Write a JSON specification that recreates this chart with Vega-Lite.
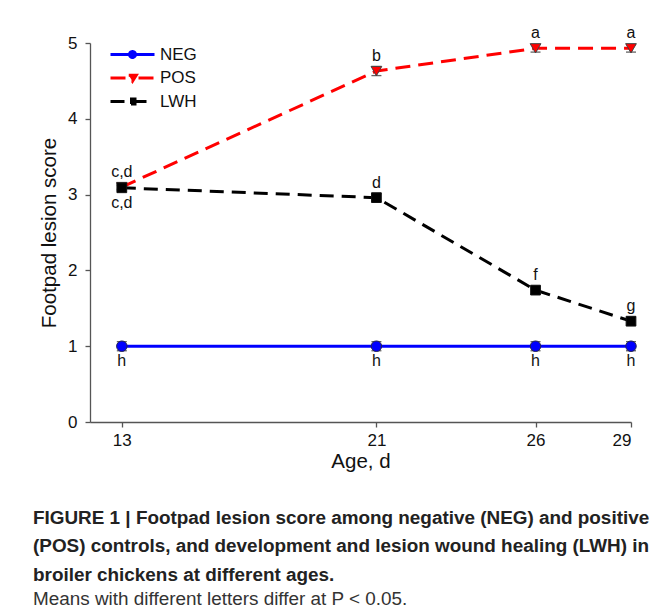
{
  "$schema": "https://vega.github.io/schema/vega-lite/v6.json",
  "width": 541,
  "height": 379,
  "autosize": {"type": "none"},
  "padding": {"left": 90, "top": 43, "right": 36, "bottom": 186},
  "background": "white",
  "title": {
    "text": ["FIGURE 1 | Footpad lesion score among negative (NEG) and positive", "(POS) controls, and development and lesion wound healing (LWH) in", "broiler chickens at different ages."],
    "subtitle": "Means with different letters differ at P < 0.05.",
    "orient": "bottom",
    "anchor": "start",
    "frame": "group",
    "dx": -57,
    "offset": 37,
    "font": "Liberation Sans",
    "fontSize": 18.9,
    "fontWeight": "bold",
    "lineHeight": 28.5,
    "color": "#222222",
    "subtitleFont": "Liberation Sans",
    "subtitleFontSize": 18.9,
    "subtitleLineHeight": 28,
    "subtitleColor": "#333333",
    "subtitlePadding": 6
  },
  "config": {
    "view": {"stroke": null},
    "axis": {
      "grid": false,
      "domainColor": "#555555",
      "domainWidth": 1.3,
      "tickColor": "#555555",
      "tickWidth": 1.3,
      "tickSize": 5,
      "labelFont": "Liberation Sans",
      "labelFontSize": 17,
      "labelColor": "#111111",
      "titleFont": "Liberation Sans",
      "titleFontSize": 20.5,
      "titleFontWeight": "normal",
      "titleColor": "#111111"
    }
  },
  "data": {
    "values": [
      {"series": "NEG", "age": 13, "mean": 1.0, "se": 0.06, "label": "h"},
      {"series": "NEG", "age": 21, "mean": 1.0, "se": 0.06, "label": "h"},
      {"series": "NEG", "age": 26, "mean": 1.0, "se": 0.06, "label": "h"},
      {"series": "NEG", "age": 29, "mean": 1.0, "se": 0.06, "label": "h"},
      {"series": "POS", "age": 13, "mean": 3.10, "se": 0.03, "label": "c,d"},
      {"series": "POS", "age": 21, "mean": 4.63, "se": 0.06, "label": "b"},
      {"series": "POS", "age": 26, "mean": 4.93, "se": 0.05, "label": "a"},
      {"series": "POS", "age": 29, "mean": 4.93, "se": 0.05, "label": "a"},
      {"series": "LWH", "age": 13, "mean": 3.09, "se": 0.03, "label": "c,d"},
      {"series": "LWH", "age": 21, "mean": 2.96, "se": 0.05, "label": "d"},
      {"series": "LWH", "age": 26, "mean": 1.74, "se": 0.05, "label": "f"},
      {"series": "LWH", "age": 29, "mean": 1.33, "se": 0.05, "label": "g"}
    ]
  },
  "encoding": {
    "x": {
      "field": "age", "type": "quantitative",
      "scale": {"domain": [12, 29], "nice": false, "zero": false},
      "axis": {"values": [13, 21, 26, 29], "title": "Age, d", "labelPadding": 5, "titlePadding": 3}
    },
    "y": {
      "field": "mean", "type": "quantitative",
      "scale": {"domain": [0, 5], "nice": false},
      "axis": {"values": [0, 1, 2, 3, 4, 5], "title": "Footpad lesion score", "labelPadding": 8, "titlePadding": 8}
    }
  },
  "layer": [
    {
      "mark": {"type": "line", "strokeWidth": 3},
      "encoding": {
        "color": {
          "field": "series", "type": "nominal",
          "scale": {"domain": ["NEG", "POS", "LWH"], "range": ["#0000ff", "#ff0000", "#000000"]},
          "legend": {
            "orient": "none", "legendX": 34, "legendY": 3, "title": null,
            "padding": 0, "symbolSize": 100, "symbolStrokeWidth": 3, "symbolType": "stroke",
            "labelOffset": 19, "labelFont": "Liberation Sans", "labelFontSize": 17, "labelColor": "#111111",
            "rowPadding": 4.5,
            "encode": {
              "symbols": {
                "update": {
                  "shape": {"signal": "datum.value === 'NEG' ? 'M-4.4,0H4.4M0.6,0A0.6,0.6,0,1,1,-0.6,0A0.6,0.6,0,1,1,0.6,0Z' : datum.value === 'POS' ? 'M-4.4,0H-1.2M1.2,0H4.4M-0.75,-0.55L0.75,-0.55L0,0.65Z' : 'M-4.4,0H4.4M-0.5,-0.5H0.5V0.5H-0.5Z'"},
                  "fill": {"signal": "datum.value === 'NEG' ? '#0000ff' : datum.value === 'POS' ? '#ff0000' : '#000000'"},
                  "stroke": {"signal": "datum.value === 'NEG' ? '#0000ff' : datum.value === 'POS' ? '#ff0000' : '#000000'"},
                  "strokeWidth": {"value": 3},
                  "strokeDash": {"value": [1, 0]},
                  "opacity": {"value": 1}
                }
              }
            }
          }
        },
        "strokeDash": {
          "field": "series", "type": "nominal",
          "scale": {"domain": ["NEG", "POS", "LWH"], "range": [[1, 0], [15, 8], [14, 8]]},
          "legend": null
        }
      }
    },
    {
      "mark": {"type": "errorbar", "ticks": true, "size": 10, "thickness": 1.3, "color": "#222222"},
      "encoding": {
        "yError": {"field": "se"},
        "detail": {"field": "series"}
      }
    },
    {
      "transform": [{"filter": "datum.series === 'NEG'"}],
      "mark": {"type": "point", "shape": "circle", "filled": true, "fill": "#0000ff", "opacity": 1, "stroke": "#222255", "strokeWidth": 1, "size": 110}
    },
    {
      "transform": [{"filter": "datum.series === 'POS'"}],
      "mark": {"type": "point", "shape": "triangle-down", "filled": true, "fill": "#ff0000", "opacity": 1, "stroke": "#444444", "strokeWidth": 1, "size": 115}
    },
    {
      "transform": [{"filter": "datum.series === 'LWH'"}],
      "mark": {"type": "point", "shape": "square", "filled": true, "fill": "#000000", "opacity": 1, "stroke": "#111111", "strokeWidth": 1, "size": 95}
    },
    {
      "transform": [{"filter": "datum.series === 'POS' || (datum.series === 'LWH' && datum.age > 13)"}],
      "mark": {"type": "text", "baseline": "bottom", "dy": -7, "font": "Liberation Sans", "fontSize": 16, "color": "#111111"},
      "encoding": {"text": {"field": "label"}}
    },
    {
      "transform": [{"filter": "datum.series === 'NEG' || (datum.series === 'LWH' && datum.age === 13)"}],
      "mark": {"type": "text", "baseline": "top", "dy": 7, "font": "Liberation Sans", "fontSize": 16, "color": "#111111"},
      "encoding": {"text": {"field": "label"}}
    }
  ]
}
